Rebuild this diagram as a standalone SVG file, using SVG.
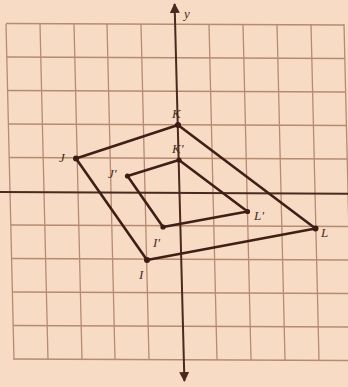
<svg xmlns="http://www.w3.org/2000/svg" width="348" height="387" viewBox="0 0 348 387">
<defs>
<style>
.grid{stroke:#b78a72;stroke-width:1.3;fill:none}
.axis{stroke:#4a2a1f;stroke-width:2;fill:none}
.edge{stroke:#3f1f16;stroke-width:2.6;fill:none;stroke-linejoin:round}
.dot{fill:#3a1c13}
.lbl{font-family:"Liberation Serif",serif;font-style:italic;font-size:13px;fill:#4a2a1f}
</style>
<marker id="arr" viewBox="0 0 10 10" refX="9" refY="5" markerWidth="5" markerHeight="5" orient="auto-start-reverse" markerUnits="strokeWidth">
<path d="M0,0 L10,5 L0,10 z" fill="#4a2a1f"/>
</marker>
</defs>
<rect x="0" y="0" width="348" height="387" fill="#f7dbc4"/>
<g id="grid" class="grid">
<line x1="6" y1="24" x2="14" y2="360"/>
<line x1="40" y1="24" x2="48" y2="360"/>
<line x1="74" y1="24" x2="82" y2="360"/>
<line x1="107" y1="24" x2="115" y2="360"/>
<line x1="141" y1="24" x2="149" y2="360"/>
<line x1="209" y1="24" x2="217" y2="360"/>
<line x1="243" y1="24" x2="251" y2="360"/>
<line x1="277" y1="24" x2="285" y2="360"/>
<line x1="311" y1="24" x2="319" y2="360"/>
<line x1="344" y1="24" x2="352" y2="360"/>
<line x1="6" y1="23.5" x2="344" y2="25"/>
<line x1="7" y1="57" x2="345" y2="58.5"/>
<line x1="7.5" y1="90.5" x2="345.5" y2="92"/>
<line x1="8" y1="124" x2="346" y2="125.5"/>
<line x1="9" y1="157.5" x2="347" y2="159"/>
<line x1="11" y1="225" x2="349" y2="226.5"/>
<line x1="11.5" y1="258.5" x2="349.5" y2="260"/>
<line x1="12" y1="292" x2="350" y2="293.5"/>
<line x1="13" y1="325.5" x2="351" y2="327"/>
<line x1="14" y1="359" x2="352" y2="360.5"/>
</g>
<g id="axes" class="axis">
<line x1="0" y1="192" x2="348" y2="193.8"/>
<line x1="174.6" y1="4" x2="184.4" y2="381" marker-start="url(#arr)" marker-end="url(#arr)"/>
</g>
<text class="lbl" x="184" y="18">y</text>
<g id="connectors">
<polygon class="edge" points="178,125 315.5,228.5 147,260 76,158.5"/>
<polygon class="edge" points="179,160 247.5,211.5 163,227 127.5,176"/>
</g>
<g id="K"><circle class="dot" cx="178" cy="125" r="3"/><text class="lbl" x="172" y="118">K</text></g>
<g id="J"><circle class="dot" cx="76" cy="158.5" r="3"/><text class="lbl" x="59" y="162">J</text></g>
<g id="L"><circle class="dot" cx="315.5" cy="228.5" r="3"/><text class="lbl" x="321" y="237">L</text></g>
<g id="I"><circle class="dot" cx="147" cy="260" r="3"/><text class="lbl" x="139" y="279">I</text></g>
<g id="Kp"><circle class="dot" cx="179" cy="160" r="2.6"/><text class="lbl" x="172" y="153">K'</text></g>
<g id="Jp"><circle class="dot" cx="127.5" cy="176" r="2.6"/><text class="lbl" x="108" y="178">J'</text></g>
<g id="Lp"><circle class="dot" cx="247.5" cy="211.5" r="2.6"/><text class="lbl" x="254" y="220">L'</text></g>
<g id="Ip"><circle class="dot" cx="163" cy="227" r="2.6"/><text class="lbl" x="153" y="247">I'</text></g>
</svg>
